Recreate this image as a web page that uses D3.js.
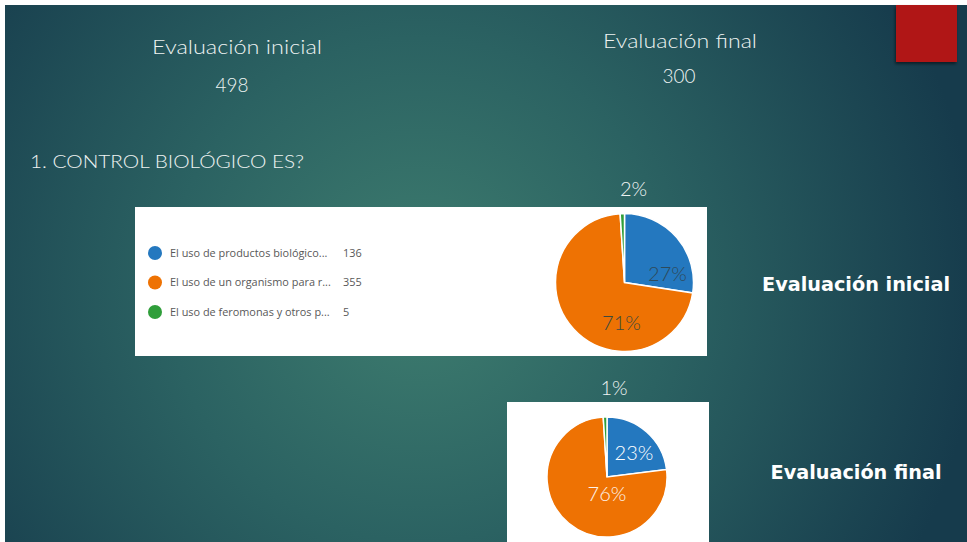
<!DOCTYPE html>
<html>
<head>
<meta charset="utf-8">
<script src="https://cdn.jsdelivr.net/npm/d3@7"></script>
<style>
  body { margin: 0; background: #fff; }
  svg { display: block; }
</style>
</head>
<body>
<svg id="slide" width="967" height="542"></svg>
<script>
var categories = [
    "El uso de productos biológico...",
    "El uso de un organismo para r...",
    "El uso de feromonas y otros p..."
]
var inicialValues = [136, 355, 5]
var finalValues = [69, 228, 3]
var inicialLabels = ["27%", "71%", "2%"]
var finalLabels = ["23%", "76%", "1%"]
var totals = ["498", "300"]
var colors = ["#2478bf", "#ee7203", "#2f9e3a"]

var svg = d3.select("svg#slide"),
    width = +svg.attr("width"),
    height = +svg.attr("height")

var font = "'Lato', 'Open Sans', sans-serif"

var defs = svg.append("defs")
var grad = defs.append("radialGradient").attr("id", "bg")
    .attr("gradientUnits", "userSpaceOnUse")
    .attr("cx", 420).attr("cy", 290).attr("r", 560)
grad.append("stop").attr("offset", "0%").attr("stop-color", "#3e7d6f")
grad.append("stop").attr("offset", "45%").attr("stop-color", "#2b6262")
grad.append("stop").attr("offset", "100%").attr("stop-color", "#163b4c")

var shadow = defs.append("filter").attr("id", "shadow")
    .attr("x", "-20%").attr("y", "-20%").attr("width", "140%").attr("height", "140%")
shadow.append("feDropShadow").attr("dx", -1).attr("dy", 2).attr("stdDeviation", 1.5)
    .attr("flood-color", "#000").attr("flood-opacity", 0.5)

svg.append("rect").attr("x", 5).attr("y", 5).attr("width", width - 5).attr("height", height - 5)
    .attr("fill", "url(#bg)")

// red corner block
svg.append("rect").attr("x", 896).attr("y", 5).attr("width", 61).attr("height", 57)
    .attr("fill", "#b01716").attr("filter", "url(#shadow)")

function label(x, y, txt, size, weight, anchor, fill, len) {
    var t = svg.append("text").attr("x", x).attr("y", y).text(txt)
        .style("font-family", font).style("font-size", size + "px")
        .style("font-weight", weight).attr("text-anchor", anchor || "start")
        .attr("fill", fill || "#eef3f2")
    if (len) t.attr("textLength", len).attr("lengthAdjust", "spacingAndGlyphs")
    return t
}

label(237, 54, "Evaluación inicial", 20, 300, "middle", null, 170)
label(232, 92, totals[0], 19, 300, "middle", null, 33)
label(680, 48, "Evaluación final", 20, 300, "middle", null, 154)
label(679, 83, totals[1], 19, 300, "middle", null, 33)
label(30, 168, "1. CONTROL BIOLÓGICO ES?", 18, 300, "start", null, 274)

label(856, 291, "Evaluación inicial", 19, 700, "middle", "#ffffff", 188)
    .style("font-family", "'DejaVu Sans', sans-serif")
label(856, 479, "Evaluación final", 19, 700, "middle", "#ffffff", 171)
    .style("font-family", "'DejaVu Sans', sans-serif")

// white chart panels
svg.append("rect").attr("x", 135).attr("y", 207).attr("width", 572).attr("height", 149).attr("fill", "#fff")
svg.append("rect").attr("x", 507).attr("y", 402).attr("width", 202).attr("height", 140).attr("fill", "#fff")

// legend
var legend = svg.append("g")
legend.selectAll("circle").data(categories).enter().append("circle")
    .attr("cx", 155).attr("cy", function(d, i) { return 253 + i * 29.5 })
    .attr("r", 7).attr("fill", function(d, i) { return colors[i] })
legend.selectAll("text.cat").data(categories).enter().append("text").attr("class", "cat")
    .attr("x", 170).attr("y", function(d, i) { return 253 + i * 29.5 }).attr("dy", "0.35em")
    .text(function(d) { return d })
    .style("font-family", "'Open Sans', sans-serif").style("font-size", "10.9px").attr("fill", "#585858")
legend.selectAll("text.val").data(inicialValues).enter().append("text").attr("class", "val")
    .attr("x", 343).attr("y", function(d, i) { return 253 + i * 29.5 }).attr("dy", "0.35em")
    .text(function(d) { return d })
    .style("font-family", "'Open Sans', sans-serif").style("font-size", "10.9px").attr("fill", "#585858")

var pie = d3.pie().sort(null).value(function(d) { return d })

function drawPie(values, cx, cy, r) {
    var arc = d3.arc().innerRadius(0).outerRadius(r)
    var g = svg.append("g").attr("transform", "translate(" + cx + "," + cy + ")")
    g.selectAll("path").data(pie(values)).enter().append("path")
        .attr("d", arc)
        .attr("fill", function(d, i) { return colors[i] })
        .attr("stroke", "#fff").attr("stroke-width", 1.5)
    return g
}

var p1 = drawPie(inicialValues, 624.5, 282.5, 69)
var p2 = drawPie(finalValues, 607, 477, 60)

// slide-made percentage labels, placed by hand over the pies
var l1 = [[43, -9], [-3, 40], [9, -94]]
var l2 = [[27, -24], [0, 17], [7, -89]]
var l1fill = ["#2e4a5a", "#3d4a3e", "#eef3f2"]
var l2fill = ["#ffffff", "#fdf3ea", "#eef3f2"]

p1.selectAll("text").data(inicialLabels).enter().append("text")
    .attr("x", function(d, i) { return l1[i][0] }).attr("y", function(d, i) { return l1[i][1] })
    .attr("dy", "0.35em").attr("text-anchor", "middle").text(function(d) { return d })
    .style("font-family", font).style("font-size", "20px").style("font-weight", 300)
    .attr("fill", function(d, i) { return l1fill[i] })

p2.selectAll("text").data(finalLabels).enter().append("text")
    .attr("x", function(d, i) { return l2[i][0] }).attr("y", function(d, i) { return l2[i][1] })
    .attr("dy", "0.35em").attr("text-anchor", "middle").text(function(d) { return d })
    .style("font-family", font).style("font-size", "20px").style("font-weight", 300)
    .attr("fill", function(d, i) { return l2fill[i] })
</script>
</body>
</html>
